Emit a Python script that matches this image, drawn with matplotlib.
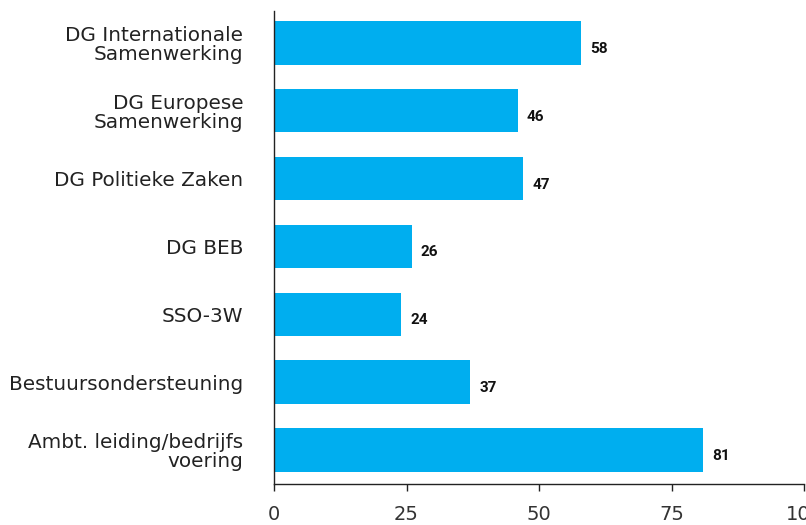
import matplotlib
matplotlib.use("Agg")
import matplotlib.pyplot as plt

categories = ["DG Internationale\nSamenwerking", "DG Europese\nSamenwerking",
              "DG Politieke Zaken", "DG BEB", "SSO-3W", "Bestuursondersteuning",
              "Ambt. leiding/bedrijfs\nvoering"]
values = [58, 46, 47, 26, 24, 37, 81]
xticks = [0, 25, 50, 75, 100]

plt.rcParams['font.family'] = ['DejaVu Sans']

fig = plt.figure(figsize=(8.06, 5.25), dpi=100)
ax = fig.add_axes([274 / 806, 1 - 484 / 525, 530 / 806, 473 / 525])

pos = list(range(len(categories)))
ax.barh(pos, values, height=0.64, color="#00AEEF")
ax.set_ylim(6.5, -0.47)
ax.set_xlim(0, 100)

for p, v in zip(pos, values):
    ax.annotate(str(v), (v, p), xytext=(6.5, -4.3), textcoords="offset points",
                va="center", ha="left", fontsize=11, fontweight="bold",
                color="#111111", family="Roboto")

ax.set_yticks(pos)
ax.set_yticklabels(categories, fontsize=14.4, color="#222222", linespacing=1.02)
ax.tick_params(axis="y", length=0, pad=22)
ax.set_xticks(xticks)
ax.set_xticklabels([str(t) for t in xticks], fontsize=14, color="#333333")
ax.tick_params(axis="x", direction="out", length=5, width=1, color="#222222", pad=10)

for s in ["top", "right"]:
    ax.spines[s].set_visible(False)
for s in ["left", "bottom"]:
    ax.spines[s].set_color("#222222")
    ax.spines[s].set_linewidth(1)

fig.savefig("out.png", dpi=100)
